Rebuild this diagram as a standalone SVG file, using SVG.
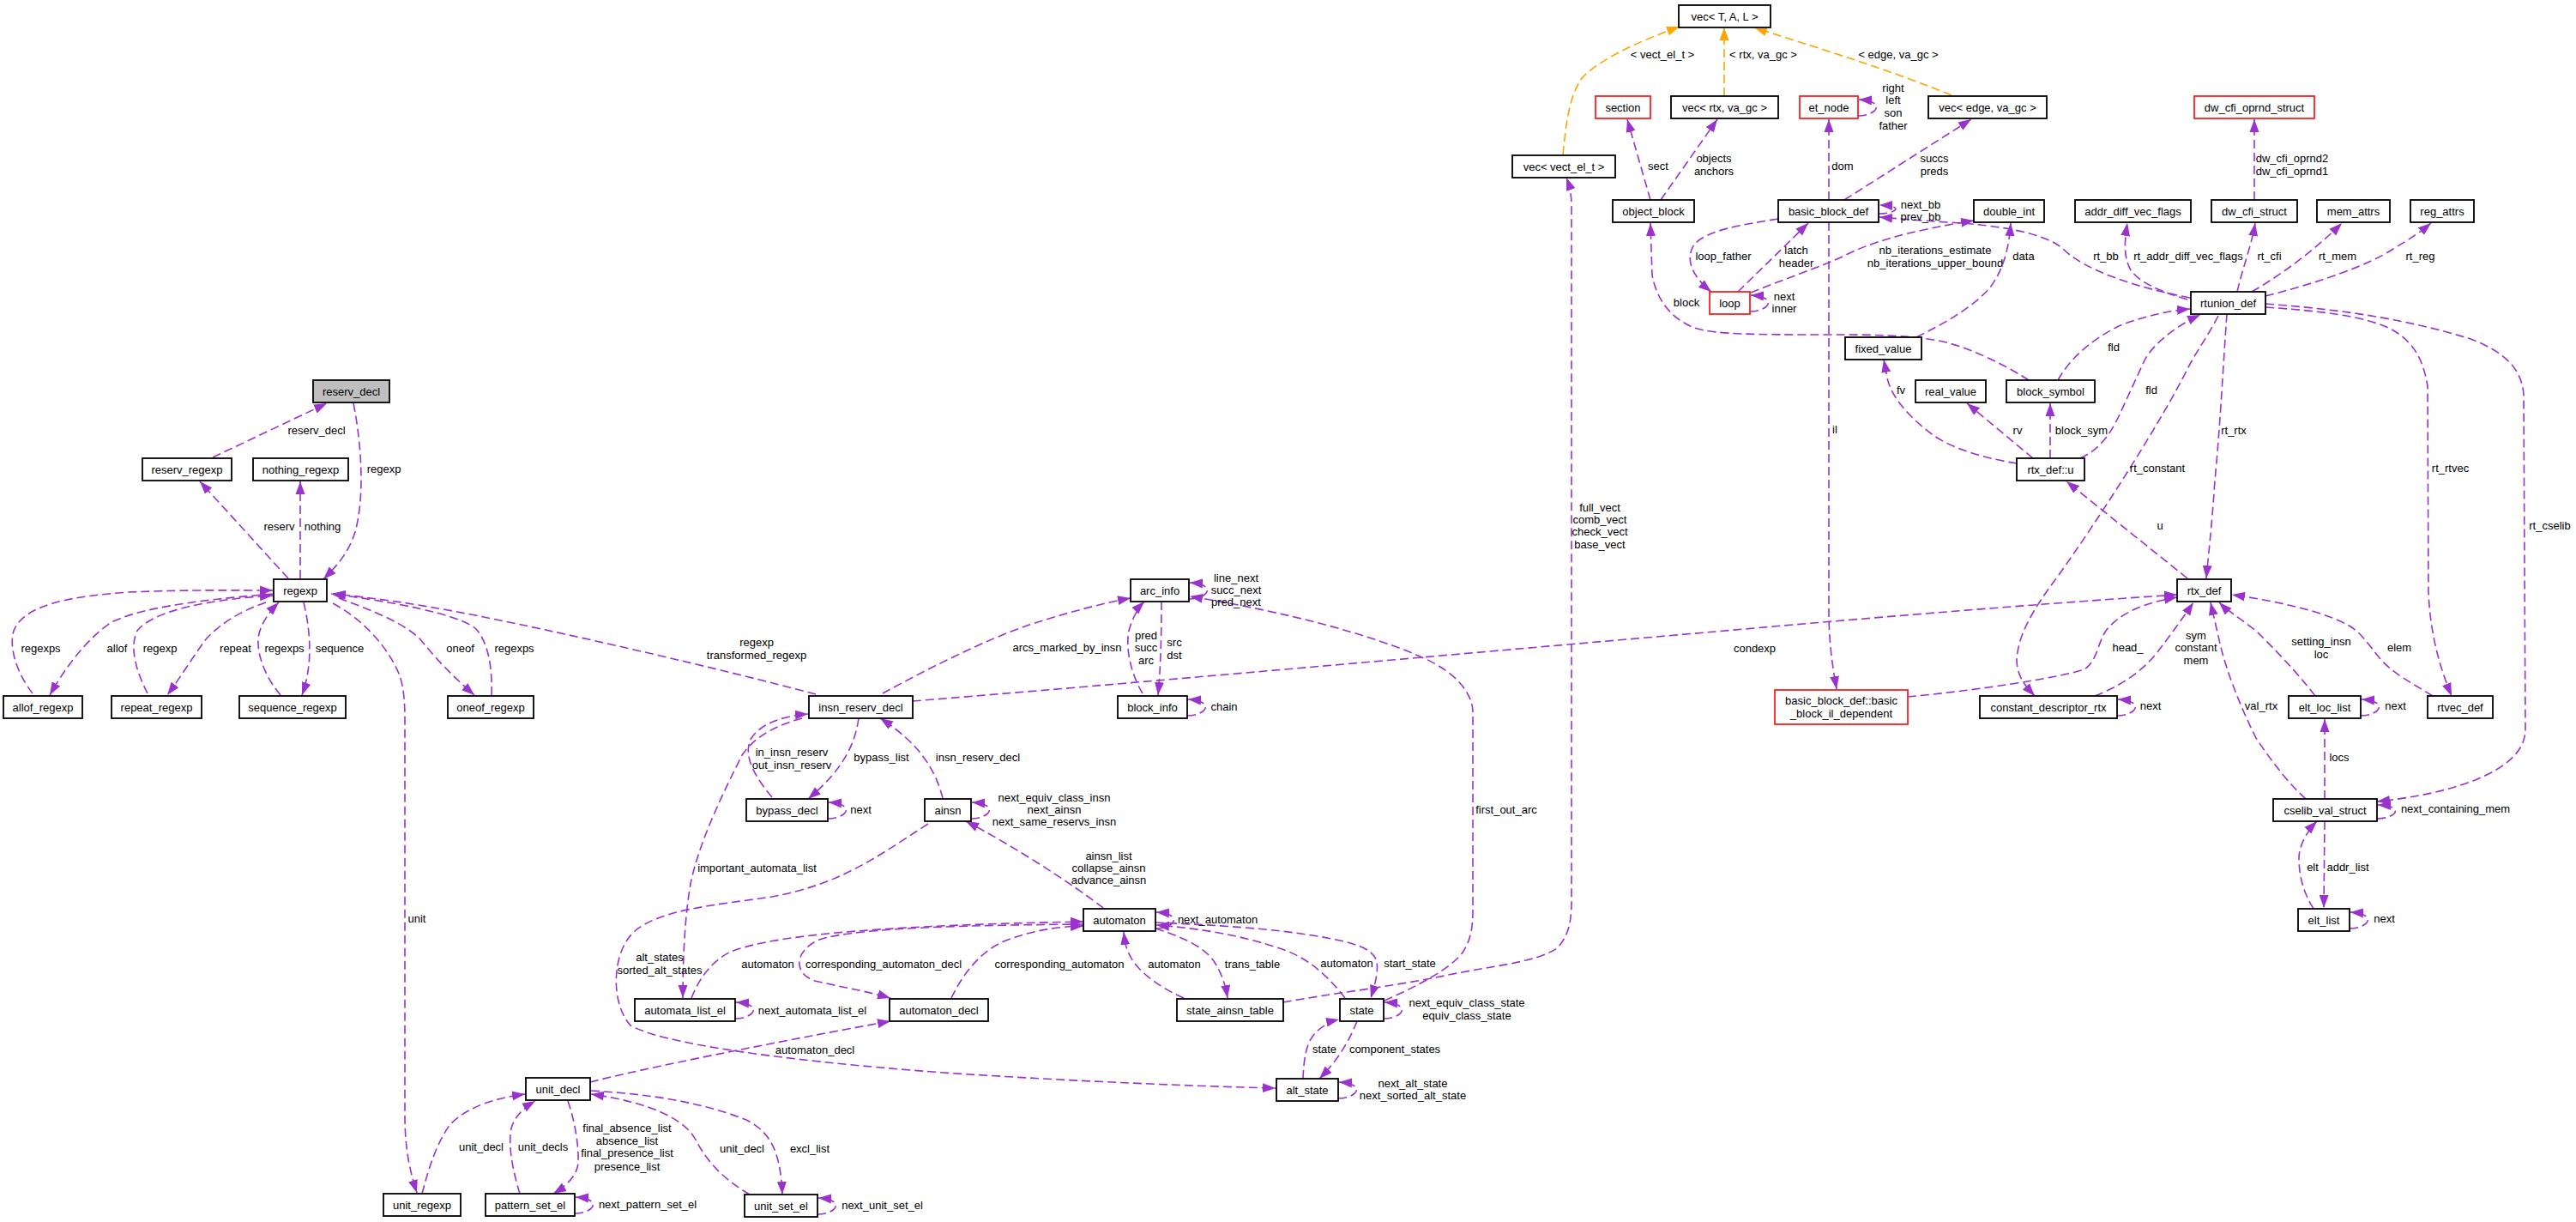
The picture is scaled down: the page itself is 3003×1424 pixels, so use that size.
<svg xmlns="http://www.w3.org/2000/svg" width="3003" height="1424" viewBox="0 0 3003 1424">
<style>
text{font-family:"Liberation Sans",Arial,sans-serif;font-size:13px;fill:#000}
.n rect{fill:#fff;stroke:#000;stroke-width:1.8}
.n.r rect{stroke:#ff2020}
.n.g rect{fill:#bfbfbf}
.n text,.l{text-anchor:middle}
.e{fill:none;stroke:#9a32cd;stroke-width:1.6;stroke-dasharray:10,5;marker-end:url(#ap)}
.e.o{stroke:#ffa500;marker-end:url(#ao)}
</style>
<defs>
<marker id="ap" markerUnits="userSpaceOnUse" markerWidth="16" markerHeight="12" refX="15" refY="6" orient="auto" viewBox="0 0 16 12"><path d="M0,0.5 L15,6 L0,11.5 z" fill="#9a32cd"/></marker>
<marker id="ao" markerUnits="userSpaceOnUse" markerWidth="16" markerHeight="12" refX="15" refY="6" orient="auto" viewBox="0 0 16 12"><path d="M0,0.5 L15,6 L0,11.5 z" fill="#ffa500"/></marker>
</defs>
<rect width="3003" height="1424" fill="#fff"/>
<g id="edges">
<path class="e" d="M248,533 L381,470"/>
<path class="e" d="M412,470 C422,520 425,580 414,620 C406,645 392,660 377,675"/>
<path class="e" d="M336,674 L233,561"/>
<path class="e" d="M350,674 L350,561"/>
<path class="e" d="M38,808 C20,785 10,755 16,735 C28,705 80,695 150,690 C220,687 280,688 318,688"/>
<path class="e" d="M318,692 C260,697 170,705 130,725 C100,745 75,780 58,810"/>
<path class="e" d="M172,808 C160,785 150,755 160,735 C180,710 250,698 318,694"/>
<path class="e" d="M310,702 C280,712 255,728 240,745 C225,765 210,790 195,810"/>
<path class="e" d="M327,810 C310,790 300,765 301,745 C302,728 315,712 325,702"/>
<path class="e" d="M354,702 C362,735 365,775 352,810"/>
<path class="e" d="M388,703 C420,720 450,750 465,785 C471,800 472,820 472,840 L472,1300 C472,1340 478,1365 486,1390"/>
<path class="e" d="M395,697 C430,710 470,725 490,745 C510,770 530,790 553,810"/>
<path class="e" d="M573,810 C574,780 570,750 555,733 C535,715 450,700 386,692"/>
<path class="e" d="M951,809 C850,782 650,735 533,713 C480,703 430,696 388,692"/>
<path class="e" d="M1029,808 C1080,780 1150,745 1200,728 C1250,712 1290,702 1318,697"/>
<path class="e" d="M1332,808 C1318,785 1312,755 1316,735 C1320,720 1327,708 1334,701"/>
<path class="e" d="M1354,701 C1354,740 1353,780 1350,810"/>
<path class="e" d="M1386,698 C1408,698 1420,681 1387,679"/>
<path class="e" d="M1384,834 C1406,834 1418,817 1385,815"/>
<path class="e" d="M1064,817 C1300,798 1700,762 2000,736 C2200,718 2400,702 2538,693"/>
<path class="e" d="M1001,837 C997,865 985,895 942,931"/>
<path class="e" d="M900,929 C880,905 865,880 876,860 C888,842 915,834 942,832"/>
<path class="e" d="M965,954 C987,954 999,937 966,935"/>
<path class="e" d="M1099,930 C1090,895 1070,865 1026,837"/>
<path class="e" d="M1132,954 C1154,954 1166,937 1133,935"/>
<path class="e" d="M1286,1058 C1250,1030 1180,985 1126,957"/>
<path class="e" d="M1082,960 C1020,1000 980,1030 900,1045 C830,1055 770,1060 740,1085 C712,1110 712,1170 735,1195 C770,1215 900,1235 1100,1250 C1250,1260 1400,1266 1487,1268"/>
<path class="e" d="M935,837 C905,845 880,858 865,880 C845,920 815,980 805,1030 C798,1070 796,1120 796,1163"/>
<path class="e" d="M806,1163 C815,1140 830,1120 850,1110 C900,1088 1050,1078 1263,1074"/>
<path class="e" d="M857,1187 C879,1187 891,1170 858,1168"/>
<path class="e" d="M1263,1077 C1150,1078 1000,1080 955,1095 C925,1108 925,1135 950,1143 C980,1150 1010,1155 1038,1163"/>
<path class="e" d="M1109,1163 C1120,1140 1140,1110 1170,1097 C1200,1085 1230,1080 1263,1079"/>
<path class="e" d="M1347,1082 C1369,1082 1381,1065 1348,1063"/>
<path class="e" d="M1380,1163 C1350,1150 1325,1130 1318,1115 C1312,1105 1311,1095 1310,1086"/>
<path class="e" d="M1347,1082 C1380,1092 1405,1105 1415,1120 C1425,1135 1429,1150 1431,1163"/>
<path class="e" d="M1568,1163 C1550,1140 1530,1120 1500,1108 C1450,1090 1400,1082 1348,1078"/>
<path class="e" d="M1347,1075 C1420,1078 1480,1082 1530,1090 C1580,1098 1600,1105 1605,1120 C1607,1135 1602,1150 1598,1163"/>
<path class="e" d="M1496,1168 C1550,1158 1620,1150 1684,1137 C1740,1125 1790,1122 1815,1105 C1830,1090 1832,1070 1832,1050 L1832,240 C1832,225 1829,215 1826,207"/>
<path class="e" d="M1614,1166 C1650,1150 1690,1130 1705,1110 C1715,1095 1717,1080 1717,1060 L1717,830 C1717,810 1700,785 1660,767 C1600,740 1500,713 1387,695"/>
<path class="e" d="M1613,1187 C1635,1187 1647,1170 1614,1168"/>
<path class="e" d="M1519,1257 C1520,1235 1522,1215 1534,1203 C1542,1195 1552,1190 1561,1188"/>
<path class="e" d="M1582,1190 C1570,1220 1555,1240 1538,1257"/>
<path class="e" d="M1560,1280 C1582,1280 1594,1263 1561,1261"/>
<path class="e" d="M688,1261 C750,1245 900,1215 1038,1190"/>
<path class="e" d="M492,1391 C500,1360 510,1330 525,1310 C545,1290 575,1280 612,1275"/>
<path class="e" d="M606,1391 C598,1365 592,1335 596,1315 C600,1300 612,1290 624,1283"/>
<path class="e" d="M662,1283 C668,1300 675,1330 674,1355 C673,1370 660,1382 645,1391"/>
<path class="e" d="M670,1414 C692,1414 704,1397 671,1395"/>
<path class="e" d="M874,1392 C845,1375 825,1355 812,1330 C800,1305 760,1285 689,1275"/>
<path class="e" d="M689,1271 C760,1275 820,1285 870,1305 C900,1320 910,1345 912,1392"/>
<path class="e" d="M953,1415 C975,1415 987,1398 954,1396"/>
<path class="e o" d="M1822,180 C1826,140 1830,110 1845,90 C1870,65 1920,45 1958,31"/>
<path class="e o" d="M2010,112 L2010,32"/>
<path class="e o" d="M2275,111 C2200,80 2100,50 2045,32"/>
<path class="e" d="M1924,233 L1897,139"/>
<path class="e" d="M1936,233 L2002,139"/>
<path class="e" d="M2166,135 C2188,135 2200,118 2167,116"/>
<path class="e" d="M2132,233 L2132,139"/>
<path class="e" d="M2150,233 L2298,139"/>
<path class="e" d="M2190,249 C2210,249 2222,240 2191,239"/>
<path class="e" d="M2553,347 C2490,335 2430,315 2405,290 C2385,272 2330,262 2270,259 C2240,257 2215,255 2191,253"/>
<path class="e" d="M2041,341 C2080,325 2120,312 2150,298 C2180,283 2220,270 2301,257"/>
<path class="e" d="M2073,255 C2030,262 1990,268 1975,285 C1965,300 1970,320 1995,340"/>
<path class="e" d="M2026,340 L2108,260"/>
<path class="e" d="M2040,363 C2062,363 2074,346 2041,344"/>
<path class="e" d="M2365,443 C2345,430 2300,405 2260,397 C2220,390 2180,390 2130,390 C2050,390 2000,390 1975,382 C1945,370 1930,345 1926,320 L1924,260"/>
<path class="e" d="M2234,393 C2270,375 2300,358 2320,335 C2335,315 2342,290 2344,260"/>
<path class="e" d="M2399,443 C2415,415 2440,395 2470,380 C2500,368 2530,362 2553,360"/>
<path class="e" d="M2425,534 C2445,525 2458,510 2470,485 L2500,420 C2510,400 2540,378 2565,367"/>
<path class="e" d="M2351,540 C2320,535 2280,525 2255,508 C2230,490 2205,465 2200,440 L2196,419"/>
<path class="e" d="M2370,534 L2293,470"/>
<path class="e" d="M2390,534 L2390,470"/>
<path class="e" d="M2550,674 L2409,561"/>
<path class="e" d="M2596,366 C2592,420 2588,500 2582,560 C2578,620 2574,650 2572,674"/>
<path class="e" d="M2586,368 C2575,390 2560,410 2550,430 C2520,490 2450,600 2400,670 C2370,710 2352,740 2351,770 C2352,790 2362,800 2372,811"/>
<path class="e" d="M2641,358 C2700,362 2760,368 2790,385 C2815,400 2825,420 2830,450 L2831,690 C2833,740 2845,780 2858,811"/>
<path class="e" d="M2641,354 C2720,360 2800,370 2880,395 C2920,410 2940,430 2942,460 L2944,850 C2944,870 2930,885 2910,897 C2880,915 2830,928 2771,934"/>
<path class="e" d="M2550,349 C2520,340 2495,330 2484,315 C2476,300 2476,285 2480,260"/>
<path class="e" d="M2608,340 C2615,310 2625,285 2629,260"/>
<path class="e" d="M2625,340 C2660,320 2700,290 2730,260"/>
<path class="e" d="M2641,345 C2700,330 2760,310 2790,290 C2810,278 2822,270 2834,260"/>
<path class="e" d="M2628,233 L2628,139"/>
<path class="e" d="M2468,834 C2490,834 2502,817 2469,815"/>
<path class="e" d="M2442,811 C2470,800 2495,785 2515,760 C2530,740 2545,720 2557,702"/>
<path class="e" d="M2224,812 C2300,805 2400,790 2430,780 C2445,770 2445,750 2455,735 C2470,715 2500,702 2538,696"/>
<path class="e" d="M2132,259 L2132,720 C2133,760 2138,785 2141,803"/>
<path class="e" d="M2699,811 C2675,780 2650,755 2630,735 C2610,720 2595,710 2587,702"/>
<path class="e" d="M2836,811 C2810,795 2790,785 2775,768 C2760,750 2755,740 2740,730 C2710,712 2650,700 2602,693"/>
<path class="e" d="M2688,931 C2670,915 2650,890 2630,860 C2610,820 2595,780 2588,750 L2577,702"/>
<path class="e" d="M2710,931 L2710,838"/>
<path class="e" d="M2752,834 C2774,834 2786,817 2753,815"/>
<path class="e" d="M2771,954 C2793,954 2805,939 2772,938"/>
<path class="e" d="M2697,1059 C2685,1040 2680,1020 2680,1000 C2680,985 2690,968 2701,957"/>
<path class="e" d="M2710,957 L2709,1058"/>
<path class="e" d="M2739,1082 C2761,1082 2773,1065 2740,1063"/>
</g>
<g id="edge-labels">
<text class="l" x="369" y="505.5">reserv_decl</text>
<text class="l" x="447.5" y="550.5">regexp</text>
<text class="l" x="325.5" y="617.5">reserv</text>
<text class="l" x="376" y="617.5">nothing</text>
<text class="l" x="47.5" y="759.5">regexps</text>
<text class="l" x="136.5" y="759.5">allof</text>
<text class="l" x="186.5" y="759.5">regexp</text>
<text class="l" x="274.5" y="759.5">repeat</text>
<text class="l" x="331.5" y="759.5">regexps</text>
<text class="l" x="396" y="759.5">sequence</text>
<text class="l" x="536.5" y="759.5">oneof</text>
<text class="l" x="599.5" y="759.5">regexps</text>
<text class="l" x="486" y="1074.5">unit</text>
<text class="l" x="882" y="752.5">regexp<tspan x="882" dy="15">transformed_regexp</tspan></text>
<text class="l" x="1244" y="758.5">arcs_marked_by_insn</text>
<text class="l" x="1336" y="745">pred<tspan x="1336" dy="14">succ</tspan><tspan x="1336" dy="14.5">arc</tspan></text>
<text class="l" x="1369" y="752.5">src<tspan x="1369" dy="15">dst</tspan></text>
<text class="l" x="1441" y="677.5">line_next<tspan x="1441" dy="14">succ_next</tspan><tspan x="1441" dy="14.5">pred_next</tspan></text>
<text class="l" x="1427" y="827.5">chain</text>
<text class="l" x="923" y="880.5">in_insn_reserv<tspan x="923" dy="15">out_insn_reserv</tspan></text>
<text class="l" x="1027.5" y="886.5">bypass_list</text>
<text class="l" x="1140" y="886.5">insn_reserv_decl</text>
<text class="l" x="1003.5" y="947.5">next</text>
<text class="l" x="1229" y="933.5">next_equiv_class_insn<tspan x="1229" dy="14">next_ainsn</tspan><tspan x="1229" dy="14">next_same_reservs_insn</tspan></text>
<text class="l" x="882.5" y="1015.5">important_automata_list</text>
<text class="l" x="1292.5" y="1001.5">ainsn_list<tspan x="1292.5" dy="14">collapse_ainsn</tspan><tspan x="1292.5" dy="14.5">advance_ainsn</tspan></text>
<text class="l" x="1419.5" y="1075.5">next_automaton</text>
<text class="l" x="769" y="1119.5">alt_states<tspan x="769" dy="15">sorted_alt_states</tspan></text>
<text class="l" x="895" y="1127.5">automaton</text>
<text class="l" x="1030" y="1127.5">corresponding_automaton_decl</text>
<text class="l" x="1235" y="1127.5">corresponding_automaton</text>
<text class="l" x="1369" y="1127.5">automaton</text>
<text class="l" x="1460" y="1127.5">trans_table</text>
<text class="l" x="947" y="1181.5">next_automata_list_el</text>
<text class="l" x="950" y="1227.5">automaton_decl</text>
<text class="l" x="865" y="1342.5">unit_decl</text>
<text class="l" x="944" y="1342.5">excl_list</text>
<text class="l" x="1028.5" y="1408.5">next_unit_set_el</text>
<text class="l" x="561" y="1340.5">unit_decl</text>
<text class="l" x="633" y="1340.5">unit_decls</text>
<text class="l" x="731" y="1318.5">final_absence_list<tspan x="731" dy="15">absence_list</tspan><tspan x="731" dy="14">final_presence_list</tspan><tspan x="731" dy="16">presence_list</tspan></text>
<text class="l" x="755" y="1407.5">next_pattern_set_el</text>
<text class="l" x="1756" y="947.5">first_out_arc</text>
<text class="l" x="1570" y="1126.5">automaton</text>
<text class="l" x="1643.5" y="1126.5">start_state</text>
<text class="l" x="1710" y="1172.5">next_equiv_class_state<tspan x="1710" dy="15">equiv_class_state</tspan></text>
<text class="l" x="1544" y="1226.5">state</text>
<text class="l" x="1626" y="1226.5">component_states</text>
<text class="l" x="1647" y="1266.5">next_alt_state<tspan x="1647" dy="14">next_sorted_alt_state</tspan></text>
<text class="l" x="1865" y="595.5">full_vect<tspan x="1865" dy="14">comb_vect</tspan><tspan x="1865" dy="14.5">check_vect</tspan><tspan x="1865" dy="14.5">base_vect</tspan></text>
<text class="l" x="1938" y="67.5">&lt; vect_el_t &gt;</text>
<text class="l" x="2055.5" y="67.5">&lt; rtx, va_gc &gt;</text>
<text class="l" x="2213" y="67.5">&lt; edge, va_gc &gt;</text>
<text class="l" x="1933" y="197.5">sect</text>
<text class="l" x="1998" y="188.5">objects<tspan x="1998" dy="15">anchors</tspan></text>
<text class="l" x="2207" y="107">right<tspan x="2207" dy="14">left</tspan><tspan x="2207" dy="15">son</tspan><tspan x="2207" dy="15">father</tspan></text>
<text class="l" x="2148" y="197.5">dom</text>
<text class="l" x="2255" y="188.5">succs<tspan x="2255" dy="15">preds</tspan></text>
<text class="l" x="2239" y="243">next_bb<tspan x="2239" dy="14">prev_bb</tspan></text>
<text class="l" x="2009" y="302.5">loop_father</text>
<text class="l" x="2094" y="296">latch<tspan x="2094" dy="14.5">header</tspan></text>
<text class="l" x="2256" y="296">nb_iterations_estimate<tspan x="2256" dy="14.5">nb_iterations_upper_bound</tspan></text>
<text class="l" x="2080" y="349.5">next<tspan x="2080" dy="14">inner</tspan></text>
<text class="l" x="1966" y="357">block</text>
<text class="l" x="2359" y="302.5">data</text>
<text class="l" x="2455" y="302.5">rt_bb</text>
<text class="l" x="2551" y="302.5">rt_addr_diff_vec_flags</text>
<text class="l" x="2645.5" y="302.5">rt_cfi</text>
<text class="l" x="2725" y="302.5">rt_mem</text>
<text class="l" x="2821.5" y="302.5">rt_reg</text>
<text class="l" x="2672" y="188.5">dw_cfi_oprnd2<tspan x="2672" dy="15">dw_cfi_oprnd1</tspan></text>
<text class="l" x="2464" y="408.5">fld</text>
<text class="l" x="2508" y="458.5">fld</text>
<text class="l" x="2216" y="458.5">fv</text>
<text class="l" x="2352" y="505.5">rv</text>
<text class="l" x="2426.5" y="505.5">block_sym</text>
<text class="l" x="2604" y="505.5">rt_rtx</text>
<text class="l" x="2515" y="550">rt_constant</text>
<text class="l" x="2856.5" y="550">rt_rtvec</text>
<text class="l" x="2972.5" y="617">rt_cselib</text>
<text class="l" x="2518" y="617">u</text>
<text class="l" x="2139" y="504.5">il</text>
<text class="l" x="2045.5" y="759.5">condexp</text>
<text class="l" x="2480.5" y="758.5">head_</text>
<text class="l" x="2560" y="745">sym<tspan x="2560" dy="14">constant</tspan><tspan x="2560" dy="14.5">mem</tspan></text>
<text class="l" x="2706" y="752">setting_insn<tspan x="2706" dy="14.5">loc</tspan></text>
<text class="l" x="2797" y="758.5">elem</text>
<text class="l" x="2507" y="827">next</text>
<text class="l" x="2636" y="827">val_rtx</text>
<text class="l" x="2792.5" y="827">next</text>
<text class="l" x="2727" y="887">locs</text>
<text class="l" x="2862.5" y="947">next_containing_mem</text>
<text class="l" x="2696" y="1014.5">elt</text>
<text class="l" x="2737" y="1014.5">addr_list</text>
<text class="l" x="2779.5" y="1074.5">next</text>
</g>
<g id="node-reserv_decl" class="n g"><rect x="365" y="443" width="89" height="26"/><text x="409.5" y="460.5">reserv_decl</text></g>
<g id="node-reserv_regexp" class="n"><rect x="166" y="534" width="104" height="26"/><text x="218" y="551.5">reserv_regexp</text></g>
<g id="node-nothing_regexp" class="n"><rect x="295" y="534" width="111" height="26"/><text x="350.5" y="551.5">nothing_regexp</text></g>
<g id="node-regexp" class="n"><rect x="319" y="675" width="62" height="26"/><text x="350" y="692.5">regexp</text></g>
<g id="node-allof_regexp" class="n"><rect x="4" y="811" width="92" height="26"/><text x="50" y="828.5">allof_regexp</text></g>
<g id="node-repeat_regexp" class="n"><rect x="130" y="811" width="105" height="26"/><text x="182.5" y="828.5">repeat_regexp</text></g>
<g id="node-sequence_regexp" class="n"><rect x="279" y="811" width="124" height="26"/><text x="341" y="828.5">sequence_regexp</text></g>
<g id="node-oneof_regexp" class="n"><rect x="522" y="811" width="100" height="26"/><text x="572" y="828.5">oneof_regexp</text></g>
<g id="node-unit_regexp" class="n"><rect x="447" y="1391" width="90" height="26"/><text x="492" y="1408.5">unit_regexp</text></g>
<g id="node-pattern_set_el" class="n"><rect x="566" y="1391" width="104" height="26"/><text x="618" y="1408.5">pattern_set_el</text></g>
<g id="node-unit_decl" class="n"><rect x="613" y="1256" width="75" height="26"/><text x="650.5" y="1273.5">unit_decl</text></g>
<g id="node-unit_set_el" class="n"><rect x="868" y="1392" width="85" height="26"/><text x="910.5" y="1409.5">unit_set_el</text></g>
<g id="node-automata_list_el" class="n"><rect x="740" y="1164" width="117" height="26"/><text x="798.5" y="1181.5">automata_list_el</text></g>
<g id="node-automaton_decl" class="n"><rect x="1037" y="1164" width="115" height="26"/><text x="1094.5" y="1181.5">automaton_decl</text></g>
<g id="node-state_ainsn_table" class="n"><rect x="1372" y="1164" width="124" height="26"/><text x="1434" y="1181.5">state_ainsn_table</text></g>
<g id="node-automaton" class="n"><rect x="1263" y="1059" width="84" height="26"/><text x="1305" y="1076.5">automaton</text></g>
<g id="node-alt_state" class="n"><rect x="1488" y="1257" width="72" height="26"/><text x="1524" y="1274.5">alt_state</text></g>
<g id="node-state" class="n"><rect x="1562" y="1164" width="51" height="26"/><text x="1587.5" y="1181.5">state</text></g>
<g id="node-arc_info" class="n"><rect x="1318" y="675" width="68" height="26"/><text x="1352" y="692.5">arc_info</text></g>
<g id="node-insn_reserv_decl" class="n"><rect x="943" y="811" width="121" height="26"/><text x="1003.5" y="828.5">insn_reserv_decl</text></g>
<g id="node-block_info" class="n"><rect x="1303" y="811" width="81" height="26"/><text x="1343.5" y="828.5">block_info</text></g>
<g id="node-bypass_decl" class="n"><rect x="870" y="931" width="95" height="26"/><text x="917.5" y="948.5">bypass_decl</text></g>
<g id="node-ainsn" class="n"><rect x="1078" y="931" width="54" height="26"/><text x="1105" y="948.5">ainsn</text></g>
<g id="node-vec_T_A_L" class="n"><rect x="1957" y="6" width="107" height="26"/><text x="2010.5" y="23.5">vec&lt; T, A, L &gt;</text></g>
<g id="node-section" class="n r"><rect x="1860" y="112" width="64" height="26"/><text x="1892" y="129.5">section</text></g>
<g id="node-vec_rtx_va_gc" class="n"><rect x="1948" y="112" width="125" height="26"/><text x="2010.5" y="129.5">vec&lt; rtx, va_gc &gt;</text></g>
<g id="node-et_node" class="n r"><rect x="2098" y="112" width="68" height="26"/><text x="2132" y="129.5">et_node</text></g>
<g id="node-vec_edge_va_gc" class="n"><rect x="2248" y="112" width="138" height="26"/><text x="2317" y="129.5">vec&lt; edge, va_gc &gt;</text></g>
<g id="node-dw_cfi_oprnd_struct" class="n r"><rect x="2558" y="112" width="140" height="26"/><text x="2628" y="129.5">dw_cfi_oprnd_struct</text></g>
<g id="node-vec_vect_el_t" class="n"><rect x="1763" y="181" width="120" height="26"/><text x="1823" y="198.5">vec&lt; vect_el_t &gt;</text></g>
<g id="node-object_block" class="n"><rect x="1880" y="233" width="95" height="26"/><text x="1927.5" y="250.5">object_block</text></g>
<g id="node-basic_block_def" class="n"><rect x="2073" y="233" width="117" height="26"/><text x="2131.5" y="250.5">basic_block_def</text></g>
<g id="node-double_int" class="n"><rect x="2301" y="233" width="82" height="26"/><text x="2342" y="250.5">double_int</text></g>
<g id="node-addr_diff_vec_flags" class="n"><rect x="2419" y="233" width="135" height="26"/><text x="2486.5" y="250.5">addr_diff_vec_flags</text></g>
<g id="node-dw_cfi_struct" class="n"><rect x="2578" y="233" width="100" height="26"/><text x="2628" y="250.5">dw_cfi_struct</text></g>
<g id="node-mem_attrs" class="n"><rect x="2701" y="233" width="85" height="26"/><text x="2743.5" y="250.5">mem_attrs</text></g>
<g id="node-reg_attrs" class="n"><rect x="2810" y="233" width="74" height="26"/><text x="2847" y="250.5">reg_attrs</text></g>
<g id="node-loop" class="n r"><rect x="1993" y="340" width="47" height="26"/><text x="2016.5" y="357.5">loop</text></g>
<g id="node-rtunion_def" class="n"><rect x="2554" y="340" width="87" height="26"/><text x="2597.5" y="357.5">rtunion_def</text></g>
<g id="node-fixed_value" class="n"><rect x="2151" y="393" width="89" height="26"/><text x="2195.5" y="410.5">fixed_value</text></g>
<g id="node-real_value" class="n"><rect x="2233" y="443" width="82" height="26"/><text x="2274" y="460.5">real_value</text></g>
<g id="node-block_symbol" class="n"><rect x="2339" y="443" width="103" height="26"/><text x="2390.5" y="460.5">block_symbol</text></g>
<g id="node-rtx_def_u" class="n"><rect x="2351" y="534" width="79" height="26"/><text x="2390.5" y="551.5">rtx_def::u</text></g>
<g id="node-rtx_def" class="n"><rect x="2538" y="675" width="63" height="26"/><text x="2569.5" y="692.5">rtx_def</text></g>
<g id="node-basic_block_il_dependent" class="n r"><rect x="2069" y="804" width="155" height="40"/><text x="2146.5" y="820.5">basic_block_def::basic<tspan x="2146.5" dy="15">_block_il_dependent</tspan></text></g>
<g id="node-constant_descriptor_rtx" class="n"><rect x="2308" y="811" width="160" height="26"/><text x="2388" y="828.5">constant_descriptor_rtx</text></g>
<g id="node-elt_loc_list" class="n"><rect x="2668" y="811" width="84" height="26"/><text x="2710" y="828.5">elt_loc_list</text></g>
<g id="node-rtvec_def" class="n"><rect x="2830" y="811" width="76" height="26"/><text x="2868" y="828.5">rtvec_def</text></g>
<g id="node-cselib_val_struct" class="n"><rect x="2650" y="931" width="121" height="26"/><text x="2710.5" y="948.5">cselib_val_struct</text></g>
<g id="node-elt_list" class="n"><rect x="2679" y="1059" width="60" height="26"/><text x="2709" y="1076.5">elt_list</text></g>
</svg>
